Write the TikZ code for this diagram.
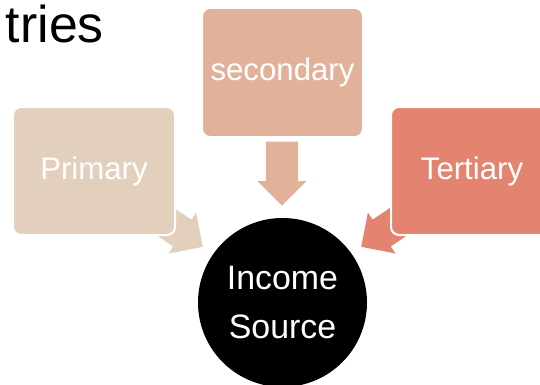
\documentclass[tikz,border=0pt]{standalone}
\usepackage{fontspec}
\setmainfont{Liberation Sans}
\usetikzlibrary{shapes.arrows}

\definecolor{primcol}{RGB}{227,208,188}
\definecolor{seccol}{RGB}{225,178,153}
\definecolor{tertcol}{RGB}{228,132,112}

\tikzset{
  sector/.style={rounded corners=8bp, draw=white, line width=2bp,
    minimum width=162bp, minimum height=128bp, inner sep=0pt,
    text=white, font=\fontsize{31.3}{36}\selectfont},
  feed/.style={single arrow, text height=16bp, text depth=16bp, text width=0pt,
    single arrow head extend=8.5bp, minimum height=64bp, inner sep=0pt, anchor=tip},
}

\begin{document}
\begin{tikzpicture}[x=1bp,y=1bp]
    \useasboundingbox (0,0) rectangle (540,384);
    \clip (0,0) rectangle (540,384);
    \node [anchor=base east, inner sep=0pt, font=\fontsize{52}{60}\selectfont] (title) at (104,342) {tries};
    % block arrows, tails hidden behind the boxes
    \node [feed, fill=primcol, rotate=-34] (fromprim) at (203,137) {};
    \node [feed, fill=seccol, rotate=-90] (fromsec) at (282,178) {};
    \node [feed, fill=tertcol, rotate=-146] (fromtert) at (361,137) {};
    % sectors
    \node [sector, fill=primcol] (prim) at (94,213) {Primary};
    \node [sector, fill=seccol, minimum width=161bp, minimum height=129bp] (sec) at (282.5,311.5) {secondary};
    \node [sector, fill=tertcol] (tert) at (472,213) {Tertiary};
    % hub
    \node [circle, fill=black, minimum size=169bp, inner sep=0pt] (income) at (282.5,81.5) {};
    \node [align=center, text=white, font=\fontsize{34}{50}\selectfont] (incometext) at (income.center) {Income\\Source};
\end{tikzpicture}
\end{document}
